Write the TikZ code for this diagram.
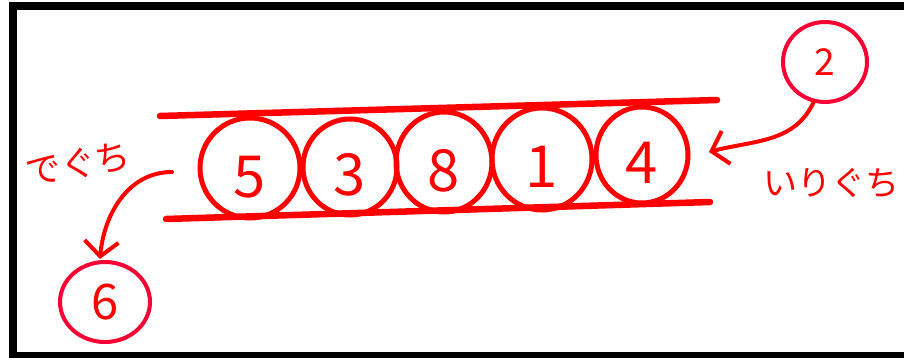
\documentclass[tikz,border=0pt]{standalone}
\usepackage{fontspec}
\setmainfont{Noto Sans CJK JP}
\usepackage{tikz}
\usetikzlibrary{arrows.meta,shapes.geometric}
\usepackage{xcolor}
\definecolor{pen}{RGB}{255,0,0}
\definecolor{pinkpen}{RGB}{248,0,52}

\tikzset{
  ball/.style={ellipse,draw=pen,line width=5pt,inner sep=0pt,text=pen,
    font=\fontsize{58}{58}\selectfont,text height=58pt,text depth=0pt},
  loose/.style={ellipse,draw=pinkpen,line width=4pt,inner sep=0pt,text=pen},
  tube/.style={draw=pen,line width=6.5pt,line cap=round},
  flow/.style={draw=pen,line width=4pt,line cap=round,
    -{Straight Barb[length=15pt,width=34pt,line width=4pt]}},
  word/.style={text=pen,inner sep=0pt}
}

\begin{document}
\begin{tikzpicture}[x=1pt,y=-1pt]
  \useasboundingbox (0,0) rectangle (904,358);
  % frame
  \fill[black] (9,2) rectangle (904,10);
  \fill[black] (9,2) rectangle (17,358);
  \fill[black] (9,352) rectangle (904,358);
  % tube walls
  \coordinate (tl) at (160,116);
  \coordinate (tr) at (717,100);
  \coordinate (bl) at (166,219);
  \coordinate (br) at (710,202);
  \draw[tube] (tl) -- (tr);
  \draw[tube] (bl) -- (br);
  % values in the queue
  \node[ball,minimum width=100pt,minimum height=100pt] (c5) at (250,168) {5};
  \node[ball,minimum width=94pt,minimum height=96pt] (c3) at (350,167) {3};
  \node[ball,minimum width=96pt,minimum height=100pt] (c8) at (444,162) {8};
  \node[ball,minimum width=100pt,minimum height=102pt] (c1) at (542,159) {1};
  \node[ball,minimum width=92pt,minimum height=96pt] (c4) at (642,155) {4};
  % incoming value
  \node[loose,minimum width=84pt,minimum height=80pt,
    font=\fontsize{37}{37}\selectfont] (new2) at (825,62) {2};
  \coordinate (inpt) at (709,152);
  \draw[flow] (new2.-106) to[out=-115,in=15] (inpt);
  \node[word,font=\fontsize{34}{34}\selectfont] (iriguchi) at (831,183) {いりぐち};
  % outgoing value
  \node[loose,minimum width=90pt,minimum height=80pt,
    font=\fontsize{49}{49}\selectfont] (got6) at (105,302) {6};
  \coordinate (outpt) at (172,172);
  \draw[flow] (outpt) to[out=180,in=85] (100,259);
  \node[word,font=\fontsize{35}{35}\selectfont,rotate=10] (deguchi) at (78,164) {でぐち};
\end{tikzpicture}
\end{document}
